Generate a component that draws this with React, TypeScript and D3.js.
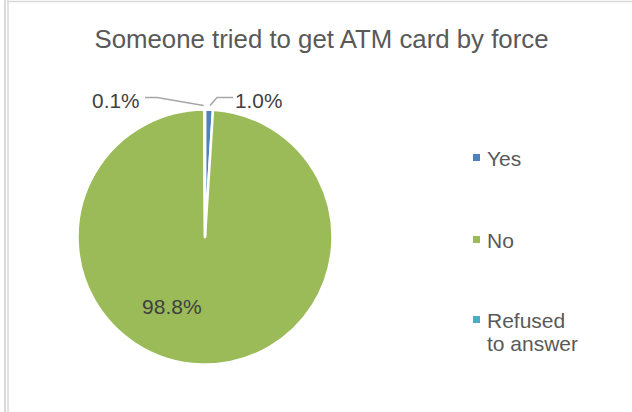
import React from "react";
import * as d3 from "d3";

const categories = ["Yes", "No", "Refused to answer"];
const values = [1.0, 98.8, 0.1];
const labels = ["1.0%", "98.8%", "0.1%"];
const colors = ["#4F81BD", "#9BBB59", "#4BACC6"];
const title = "Someone tried to get ATM card by force";

const W = 632;
const H = 412;
const cx = 205;
const cy = 237;
const R = 127.5;

export default function App() {
  const pie = d3
    .pie<number>()
    .sort(null)
    .value((d) => d)
    .startAngle(0)
    .endAngle(2 * Math.PI);
  const arcs = pie(values);
  const arcGen = d3.arc<d3.PieArcDatum<number>>().innerRadius(0).outerRadius(R);
  const labelArc = d3.arc<d3.PieArcDatum<number>>().innerRadius(R * 0.6).outerRadius(R * 0.6);

  const font = "'Liberation Sans', Arial, sans-serif";

  const edge = (a: d3.PieArcDatum<number>, r: number) => {
    const m = (a.startAngle + a.endAngle) / 2;
    return [cx + r * Math.sin(m), cy - r * Math.cos(m)];
  };

  const yesEdge = edge(arcs[0], R + 2);
  const refEdge = edge(arcs[2], R + 2);

  const legendY = [158, 240, 320];

  return (
    <svg
      width={W}
      height={H}
      style={{ position: "absolute", left: 0, top: 0, background: "#fff" }}
    >
      <rect x={0} y={0} width={W} height={H} fill="#fff" />
      <line x1={5} y1={0} x2={5} y2={H} stroke="#d9d9d9" strokeWidth={2} />
      <line x1={8} y1={0} x2={8} y2={H} stroke="#d9d9d9" strokeWidth={1.5} />
      <line x1={7} y1={1.5} x2={W} y2={1.5} stroke="#d9d9d9" strokeWidth={1.5} />

      <text
        x={321.5}
        y={48}
        textAnchor="middle"
        fontFamily={font}
        fontSize={25.8}
        fill="#595959"
      >
        {title}
      </text>

      <g>
        {arcs.map((a, i) => (
          <path
            key={categories[i]}
            d={arcGen(a) || ""}
            transform={`translate(${cx},${cy})`}
            fill={colors[i]}
            stroke="#fff"
            strokeWidth={2.5}
            strokeLinejoin="round"
          />
        ))}
      </g>

      {(() => {
        const [lx, ly] = labelArc.centroid(arcs[1]);
        return (
          <text
            x={cx + lx - 31}
            y={cy + ly - 7}
            textAnchor="middle"
            dominantBaseline="central"
            fontFamily={font}
            fontSize={21}
            fill="#404040"
          >
            {labels[1]}
          </text>
        );
      })()}

      <polyline
        points={`${yesEdge[0] + 1},${yesEdge[1] - 2} ${217},${97.5} ${233},${97.5}`}
        fill="none"
        stroke="#a6a6a6"
        strokeWidth={1.5}
      />
      <polyline
        points={`${refEdge[0] - 1},${refEdge[1] - 2} ${157},${97.5} ${145},${97.5}`}
        fill="none"
        stroke="#a6a6a6"
        strokeWidth={1.5}
      />
      <text x={235} y={100} dominantBaseline="central" fontFamily={font} fontSize={20.8} fill="#404040">
        {labels[0]}
      </text>
      <text x={139.5} y={100} textAnchor="end" dominantBaseline="central" fontFamily={font} fontSize={20.8} fill="#404040">
        {labels[2]}
      </text>

      {categories.map((c, i) => {
        const parts = c === "Refused to answer" ? ["Refused", "to answer"] : [c];
        return (
          <g key={c}>
            <rect x={473} y={legendY[i] - 4} width={7} height={7} fill={colors[i]} />
            {parts.map((p, j) => (
              <text
                key={p}
                x={487}
                y={legendY[i] + j * 23}
                dominantBaseline="central"
                fontFamily={font}
                fontSize={21}
                fill="#595959"
              >
                {p}
              </text>
            ))}
          </g>
        );
      })}
    </svg>
  );
}
